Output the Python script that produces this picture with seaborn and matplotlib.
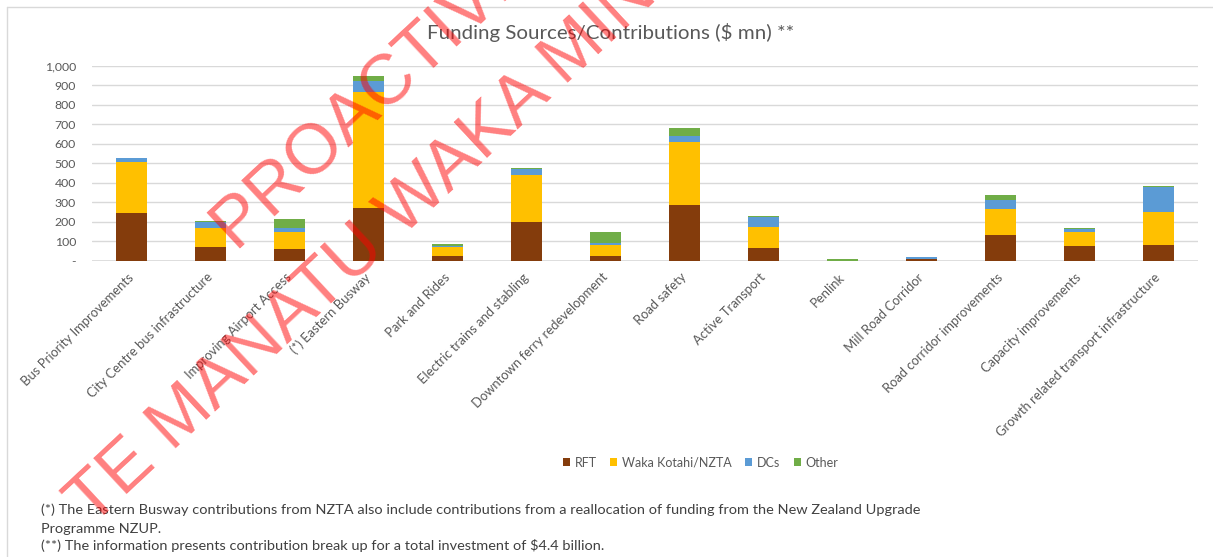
import numpy as np
import pandas as pd
import matplotlib
matplotlib.use("Agg")
import matplotlib.pyplot as plt
import seaborn as sns
from matplotlib.patches import Patch
from matplotlib.lines import Line2D
from matplotlib.ticker import FuncFormatter

# ---------------- data ----------------
categories = [
    "Bus Priority Improvements",
    "City Centre bus infrastructure",
    "Improving Airport Access",
    "(*) Eastern Busway",
    "Park and Rides",
    "Electric trains and stabling",
    "Downtown ferry redevelopment",
    "Road safety",
    "Active Transport",
    "Penlink",
    "Mill Road Corridor",
    "Road corridor improvements",
    "Capacity improvements",
    "Growth related transport infrastructure",
]
rft   = [245, 68, 62, 269, 26, 197, 26, 288, 63, 0, 8, 130, 74, 82]
nzta  = [262, 98, 87, 597, 42, 243, 56, 323, 110, 0, 0, 134, 75, 170]
dcs   = [19, 33, 17, 55, 9, 29, 7, 29, 53, 0, 9, 48, 15, 126]
other = [3, 5, 48, 24, 10, 7, 58, 43, 3, 8, 3, 24, 4, 4]
series_names = ["RFT", "Waka Kotahi/NZTA", "DCs", "Other"]
series_colors = ["#843C0C", "#FFC000", "#5B9BD5", "#70AD47"]
yticks = [0, 100, 200, 300, 400, 500, 600, 700, 800, 900, 1000]
title = "Funding Sources/Contributions ($ mn) **"
footnotes = [
    "(*) The Eastern Busway contributions from NZTA also include contributions from a reallocation of funding from the New Zealand Upgrade",
    "Programme NZUP.",
    "(**) The information presents contribution break up for a total investment of $4.4 billion.",
]
watermark = ["PROACTIVELY RELEASED", "TE MANATU WAKA MINISTRY OF TRANSPORT"]

# ---------------- style ----------------
sns.set_style("white")
plt.rcParams["font.family"] = ["Lato", "DejaVu Sans"]
GRAY = "#595959"
GRID = "#d9d9d9"

W, H = 1213, 557
fig = plt.figure(figsize=(W / 100, H / 100), dpi=100)
fig.patch.set_facecolor("white")

ax_left, ax_right, ax_top, ax_bot = 92, 1198, 65.7, 260.7
ax = fig.add_axes([ax_left / W, 1 - ax_bot / H, (ax_right - ax_left) / W, (ax_bot - ax_top) / H])

df = pd.DataFrame({"category": categories, "RFT": rft, "Waka Kotahi/NZTA": nzta, "DCs": dcs, "Other": other})
cum = df[series_names].cumsum(axis=1)

# stacked bars: draw cumulative totals from the top layer down
for name, color in reversed(list(zip(series_names, series_colors))):
    sns.barplot(data=cum.assign(category=categories), x="category", y=name, order=categories,
                color=color, width=0.4, linewidth=0, saturation=1, ax=ax, zorder=3)

ax.set_ylim(0, 1000)
ax.set_xlim(-0.5, len(categories) - 0.5)
ax.set_yticks(yticks)
ax.yaxis.set_major_formatter(FuncFormatter(lambda v, p: "-" if v == 0 else f"{int(v):,}"))
ax.yaxis.grid(True, color=GRID, linewidth=1)
ax.xaxis.grid(False)
ax.set_axisbelow(True)
for s in ax.spines.values():
    s.set_visible(False)
ax.axhline(0, color=GRID, linewidth=1.2, zorder=2)
ax.set_xlabel("")
ax.set_ylabel("")
ax.tick_params(axis="both", length=0, colors=GRAY)
ax.tick_params(axis="y", pad=11.5)
ax.tick_params(axis="x", pad=10.5)
ax.set_xticks(range(len(categories)))
ax.set_xticklabels(categories, rotation=45, ha="right", va="center", rotation_mode="anchor")

fig.canvas.draw()
r = fig.canvas.get_renderer()

def fit(t, target):
    w = t.get_window_extent(r).width
    t.set_fontsize(t.get_fontsize() * target / w)

# tick label sizes
lab = ax.get_xticklabels()[-1]
w = lab.get_window_extent(r).width
xs = lab.get_fontsize() * 167 / w
for l in ax.get_xticklabels():
    l.set_fontsize(xs)
    l.set_color(GRAY)
ylab = ax.get_yticklabels()[-1]
w = ylab.get_window_extent(r).width
ys = ylab.get_fontsize() * 31 / w
for l in ax.get_yticklabels():
    l.set_fontsize(ys)
    l.set_color(GRAY)

# title
t = fig.text(611 / W, 1 - 33 / H, title, ha="center", va="center", color=GRAY, fontsize=14)
fit(t, 367)

# footnotes
fy = [510, 529, 546]
fts = [fig.text(41 / W, 1 - y / H, s, ha="left", va="center", color="#404040", fontsize=11) for s, y in zip(footnotes, fy)]
w = fts[0].get_window_extent(r).width
fs = fts[0].get_fontsize() * 875 / w
for f in fts:
    f.set_fontsize(fs)

# legend
tmp = fig.text(0, 0, "Waka Kotahi/NZTA", fontsize=10)
lw = tmp.get_window_extent(r).width
ls = 10 * 110 / lw
tmp.remove()
handles = [Patch(facecolor=c, edgecolor="none", label=n) for n, c in zip(series_names, series_colors)]
leg = fig.legend(handles=handles, loc="center", bbox_to_anchor=(700.5 / W, 1 - 462.7 / H), ncol=4,
                 frameon=False, fontsize=ls, handlelength=0.55, handleheight=0.55,
                 handletextpad=0.35, columnspacing=1.1, labelcolor=GRAY)

# chart frame (top and left edges visible)
fig.add_artist(Line2D([7 / W, 1.0], [1 - 7 / H, 1 - 7 / H], transform=fig.transFigure, color=GRID, linewidth=1))
fig.add_artist(Line2D([7 / W, 7 / W], [0.0, 1 - 7 / H], transform=fig.transFigure, color=GRID, linewidth=1))

# watermark
ang = 43
wm_font = ["Liberation Sans", "DejaVu Sans"]
fig.text(237 / W, 1 - 253 / H, watermark[0], rotation=ang, rotation_mode="anchor", ha="left", va="baseline",
         color="red", alpha=0.5, fontsize=51, family=wm_font, zorder=20)
fig.text(92 / W, 1 - 528 / H, watermark[1], rotation=ang, rotation_mode="anchor", ha="left", va="baseline",
         color="red", alpha=0.5, fontsize=51, family=wm_font, zorder=20)

fig.savefig("out.png", dpi=100, facecolor="white")
